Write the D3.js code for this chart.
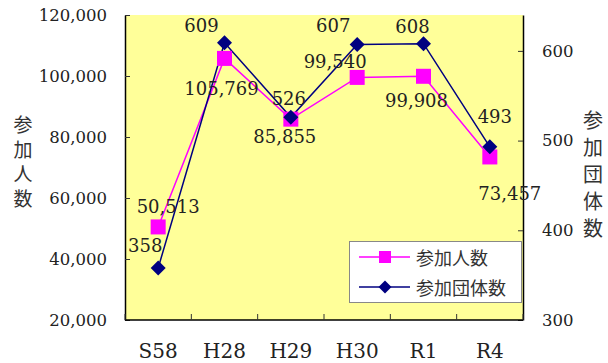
<!DOCTYPE html>
<html>
<head>
<meta charset="utf-8">
<script src="https://cdn.jsdelivr.net/npm/d3@7"></script>
<style>
  html, body { margin: 0; padding: 0; background: #fff; }
  svg { display: block; }
</style>
</head>
<body>
<svg id="chart" width="608" height="363"></svg>
<script>
// Years shown on the category axis
const categories = ["S58", "H28", "H29", "H30", "R1", "R4"];
// 参加人数 (participants), left axis
const participants = [50513, 105769, 85855, 99540, 99908, 73457];
// 参加団体数 (participating groups), right axis
const groups = [358, 609, 526, 607, 608, 493];
// Axis tick values
const leftTicks = [20000, 40000, 60000, 80000, 100000, 120000];
const rightTicks = [300, 400, 500, 600];
const seriesNames = ["参加人数", "参加団体数"];

// Label nudges (pixels from each marker) so the numbers sit clear of the lines
const peopleLabelOffset = [[10, -14], [-3, 37], [-6, 24], [-22, -9], [-7, 31], [20, 43]];
const groupLabelOffset = [[-13, -16], [-23, -11], [-2, -12], [-24, -13], [-11, -11], [5, -24]];

const PINK = "#ff00ff", NAVY = "#000080";
const serif = "'DejaVu Serif', serif";
const cjk = "'Noto Sans CJK JP', sans-serif";

const plot = { left: 125, right: 523, top: 15, bottom: 320 };
const svg = d3.select("#chart");

const x = d3.scaleBand().domain(categories).range([plot.left, plot.right]).padding(0);
const yL = d3.scaleLinear().domain([20000, 120000]).range([plot.bottom, plot.top]);
const yR = d3.scaleLinear().domain([300, 640]).range([plot.bottom, plot.top]);
const cx = c => x(c) + x.bandwidth() / 2;

// Plot background
svg.append("rect")
  .attr("x", plot.left).attr("y", plot.top)
  .attr("width", plot.right - plot.left).attr("height", plot.bottom - plot.top)
  .attr("fill", "#ffff99");

// Left axis (ticks point into the plot)
const gL = svg.append("g").attr("transform", `translate(${plot.left},0)`)
  .call(d3.axisLeft(yL).tickValues(leftTicks).tickSizeInner(-5).tickSizeOuter(0)
    .tickFormat(d3.format(",")).tickPadding(18));
gL.select(".domain").attr("stroke", "#000").attr("stroke-width", 1.5);
gL.selectAll(".tick line").attr("stroke", "#333");
gL.selectAll(".tick text").attr("font-family", serif).attr("font-size", 16.5).attr("fill", "#222");

// Right axis
const gR = svg.append("g").attr("transform", `translate(${plot.right},0)`)
  .call(d3.axisRight(yR).tickValues(rightTicks).tickSizeInner(-5).tickSizeOuter(0).tickPadding(19));
gR.select(".domain").attr("stroke", "#000").attr("stroke-width", 1.5);
gR.selectAll(".tick line").attr("stroke", "#333");
gR.selectAll(".tick text").attr("font-family", serif).attr("font-size", 16.5).attr("fill", "#222");

// Bottom axis: ticks on the category boundaries, labels centred in each band
const gB = svg.append("g").attr("transform", `translate(0,${plot.bottom})`);
gB.append("line").attr("x1", plot.left).attr("x2", plot.right)
  .attr("stroke", "#000").attr("stroke-width", 1.5);
const bounds = categories.map(c => x(c)).concat([plot.right]);
gB.selectAll("line.tk").data(bounds).join("line").attr("class", "tk")
  .attr("x1", d => d).attr("x2", d => d).attr("y1", 0).attr("y2", -6)
  .attr("stroke", "#333");
gB.selectAll("text").data(categories).join("text")
  .attr("x", cx).attr("y", 38)
  .attr("text-anchor", "middle")
  .attr("font-family", serif).attr("font-size", 20).attr("fill", "#222")
  .text(d => d);

// Vertical axis titles, set in vertical writing mode
svg.append("text")
  .attr("x", 23).attr("y", 115.5)
  .attr("writing-mode", "vertical-rl")
  .style("letter-spacing", "5.5px")
  .attr("font-family", cjk).attr("font-size", 19).attr("fill", "#333")
  .text(seriesNames[0]);
svg.append("text")
  .attr("x", 593).attr("y", 110)
  .attr("writing-mode", "vertical-rl")
  .style("letter-spacing", "7px")
  .attr("font-family", cjk).attr("font-size", 20).attr("fill", "#333")
  .text(seriesNames[1]);

// Series lines
const peopleLine = d3.line().x((d, i) => cx(categories[i])).y(d => yL(d));
const groupLine = d3.line().x((d, i) => cx(categories[i])).y(d => yR(d));
svg.append("path").datum(participants).attr("d", peopleLine)
  .attr("fill", "none").attr("stroke", PINK).attr("stroke-width", 1.5);
svg.append("path").datum(groups).attr("d", groupLine)
  .attr("fill", "none").attr("stroke", NAVY).attr("stroke-width", 1.5);

// Markers
const sq = 15;
svg.append("g").selectAll("rect").data(participants).join("rect")
  .attr("x", (d, i) => cx(categories[i]) - sq / 2)
  .attr("y", d => yL(d) - sq / 2)
  .attr("width", sq).attr("height", sq).attr("fill", PINK);
const diamond = (w, h) => `M0,${-h / 2}L${w / 2},0L0,${h / 2}L${-w / 2},0Z`;
svg.append("g").selectAll("path").data(groups).join("path")
  .attr("transform", (d, i) => `translate(${cx(categories[i])},${yR(d)})`)
  .attr("d", diamond(15, 15)).attr("fill", NAVY);

// Data labels
const fmt = d3.format(",");
svg.append("g").selectAll("text").data(participants).join("text")
  .attr("x", (d, i) => cx(categories[i]) + peopleLabelOffset[i][0])
  .attr("y", (d, i) => yL(d) + peopleLabelOffset[i][1])
  .attr("text-anchor", "middle")
  .attr("font-family", serif).attr("font-size", 18).attr("fill", "#222")
  .text(d => fmt(d));
svg.append("g").selectAll("text").data(groups).join("text")
  .attr("x", (d, i) => cx(categories[i]) + groupLabelOffset[i][0])
  .attr("y", (d, i) => yR(d) + groupLabelOffset[i][1])
  .attr("text-anchor", "middle")
  .attr("font-family", serif).attr("font-size", 18).attr("fill", "#222")
  .text(d => d);

// Legend
const lg = svg.append("g");
lg.append("rect").attr("x", 349.5).attr("y", 241.5).attr("width", 172).attr("height", 61)
  .attr("fill", "#fff").attr("stroke", "#888");
const rows = [
  { name: seriesNames[0], color: PINK, shape: "square", y: 257 },
  { name: seriesNames[1], color: NAVY, shape: "diamond", y: 287 }
];
rows.forEach(r => {
  lg.append("line").attr("x1", 359).attr("x2", 410).attr("y1", r.y).attr("y2", r.y)
    .attr("stroke", r.color).attr("stroke-width", 1.5);
  if (r.shape === "square") {
    lg.append("rect").attr("x", 385 - 6).attr("y", r.y - 6).attr("width", 12).attr("height", 12)
      .attr("fill", r.color);
  } else {
    lg.append("path").attr("transform", `translate(385,${r.y})`).attr("d", diamond(13, 13))
      .attr("fill", r.color);
  }
  lg.append("text").attr("x", 416).attr("y", r.y).attr("dominant-baseline", "central")
    .attr("font-family", cjk).attr("font-size", 18).attr("fill", "#333").text(r.name);
});
</script>
</body>
</html>
